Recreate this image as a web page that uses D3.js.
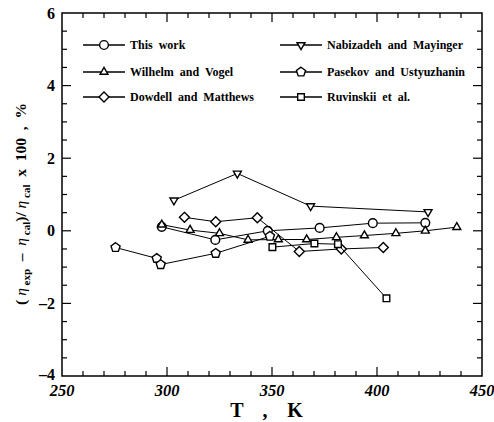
<!DOCTYPE html>
<html>
<head>
<meta charset="utf-8">
<script src="https://cdn.jsdelivr.net/npm/d3@7"></script>
<style>
  body { margin: 0; background: #fff; }
  svg text { font-family: "Liberation Serif", "DejaVu Serif", serif; font-weight: bold; fill: #000; }
</style>
</head>
<body>
<div id="chart"></div>
<script>
// Deviation data: [T in K, deviation in %]
const thisWork = [[297.5, 0.11], [323, -0.25], [348, 0.0], [372.7, 0.08], [398, 0.21], [423, 0.22]];
const wilhelm = [[297.5, 0.17], [311, 0.02], [325, -0.07], [338.6, -0.25], [353, -0.24], [366.5, -0.24], [380.7, -0.18], [394, -0.13], [409, -0.07], [423, 0.0], [438, 0.1]];
const dowdell = [[308.3, 0.37], [323.2, 0.25], [343, 0.36], [363, -0.57], [383, -0.5], [403, -0.46]];
const nabizadeh = [[303.3, 0.84], [333.5, 1.58], [368.4, 0.68], [424.3, 0.52]];
const pasekov = [[275.5, -0.46], [295.1, -0.76], [297, -0.93], [323.2, -0.62], [349, -0.15]];
const ruvinskii = [[350.2, -0.45], [370.2, -0.35], [381.4, -0.37], [404.5, -1.86]];

const seriesNames = ['This work', 'Wilhelm and Vogel', 'Dowdell and Matthews',
  'Nabizadeh and Mayinger', 'Pasekov and Ustyuzhanin', 'Ruvinskii et al.'];
const seriesData = [thisWork, wilhelm, dowdell, nabizadeh, pasekov, ruvinskii];
const seriesMarkers = ['circle', 'triangle', 'diamond', 'triangleDown', 'pentagon', 'square'];

const xTicks = [250, 300, 350, 400, 450];
const yTicks = [-4, -2, 0, 2, 4, 6];

const width = 494, height = 422;
const margin = { left: 62, right: 12, top: 13, bottom: 46 };

const svg = d3.select('#chart').append('svg')
  .attr('width', width)
  .attr('height', height);

const x = d3.scaleLinear().domain([250, 450]).range([margin.left, width - margin.right]);
const y = d3.scaleLinear().domain([-4, 6]).range([height - margin.bottom, margin.top]);

// Frame
svg.append('rect')
  .attr('x', x(250)).attr('y', y(6))
  .attr('width', x(450) - x(250)).attr('height', y(-4) - y(6))
  .attr('fill', 'none').attr('stroke', '#000').attr('stroke-width', 1.5);

// Inside ticks on all four sides
const xMinor = d3.range(260, 450, 10);
const yMinor = d3.range(-3.5, 6, 0.5);
const tickG = svg.append('g').attr('stroke', '#000').attr('stroke-width', 1.2);
xMinor.forEach(t => {
  const len = t % 50 === 0 ? 9 : 5;
  tickG.append('line').attr('x1', x(t)).attr('x2', x(t)).attr('y1', y(-4)).attr('y2', y(-4) - len);
  tickG.append('line').attr('x1', x(t)).attr('x2', x(t)).attr('y1', y(6)).attr('y2', y(6) + len);
});
yMinor.forEach(v => {
  const len = v % 2 === 0 ? 9 : 5;
  tickG.append('line').attr('y1', y(v)).attr('y2', y(v)).attr('x1', x(250)).attr('x2', x(250) + len);
  tickG.append('line').attr('y1', y(v)).attr('y2', y(v)).attr('x1', x(450)).attr('x2', x(450) - len);
});

// Tick labels
svg.append('g').selectAll('text').data(xTicks).join('text')
  .attr('x', d => x(d)).attr('y', y(-4) + 20)
  .attr('text-anchor', 'middle').attr('font-size', 16.5).attr('font-style', 'italic')
  .text(d => d);
svg.append('g').selectAll('text').data(yTicks).join('text')
  .attr('x', x(250) - 7).attr('y', d => y(d) - (d === -4 ? 2 : 0)).attr('dy', '0.35em')
  .attr('text-anchor', 'end').attr('font-size', 16)
  .text(d => d < 0 ? '\u2013' + Math.abs(d) : d);

// Axis titles
const xTitle = svg.append('g');
[['T', 237], [',', 265], ['K', 295]].forEach(([s, px]) => {
  xTitle.append('text').attr('x', px).attr('y', 417)
    .attr('text-anchor', 'middle').attr('font-size', 20).text(s);
});

const yTitle = svg.append('text')
  .attr('transform', 'translate(26,204) rotate(-90)')
  .attr('text-anchor', 'middle').attr('font-size', 15.5)
  .attr('xml:space', 'preserve');
yTitle.append('tspan').text('( ');
yTitle.append('tspan').attr('font-style', 'italic').attr('font-weight', 'normal').text('\u03b7');
yTitle.append('tspan').attr('font-size', 11).attr('dy', 4).text(' exp');
yTitle.append('tspan').attr('dy', -4).text('  \u2013  ');
yTitle.append('tspan').attr('font-style', 'italic').attr('font-weight', 'normal').text('\u03b7');
yTitle.append('tspan').attr('font-size', 11).attr('dy', 4).text(' cal');
yTitle.append('tspan').attr('dy', -4).text(')/ ');
yTitle.append('tspan').attr('font-style', 'italic').attr('font-weight', 'normal').text('\u03b7');
yTitle.append('tspan').attr('font-size', 11).attr('dy', 4).text(' cal');
yTitle.append('tspan').attr('dy', -4).text('  x  100  ,  %');

// Marker shapes (small open symbols)
function polygonPath(n, r, start) {
  const pts = d3.range(n).map(i => {
    const a = start + i * 2 * Math.PI / n;
    return [(r * Math.cos(a)).toFixed(2), (r * Math.sin(a)).toFixed(2)];
  });
  return 'M' + pts.join('L') + 'Z';
}
function markerPath(kind) {
  switch (kind) {
    case 'circle': return d3.symbol().type(d3.symbolCircle).size(60)();
    case 'triangle': return polygonPath(3, 4.6, -Math.PI / 2);
    case 'triangleDown': return polygonPath(3, 4.6, Math.PI / 2);
    case 'diamond': return polygonPath(4, 5, -Math.PI / 2);
    case 'square': return d3.symbol().type(d3.symbolSquare).size(44)();
    case 'pentagon': return polygonPath(5, 4.8, -Math.PI / 2);
  }
}

const line = d3.line().x(d => x(d[0])).y(d => y(d[1]));

seriesData.forEach((data, i) => {
  const g = svg.append('g');
  g.append('path')
    .attr('d', line(data))
    .attr('fill', 'none').attr('stroke', '#000').attr('stroke-width', 1);
  g.selectAll('path.mk').data(data).join('path')
    .attr('class', 'mk')
    .attr('d', markerPath(seriesMarkers[i]))
    .attr('transform', d => `translate(${x(d[0])},${y(d[1])})`)
    .attr('fill', '#fff').attr('stroke', '#000').attr('stroke-width', 1.4);
});

// Legend
const legendCols = [{ x0: 83, x1: 125, tx: 130 }, { x0: 280, x1: 322, tx: 327 }];
const legendRows = [45, 72, 97];
seriesNames.forEach((name, i) => {
  const col = legendCols[Math.floor(i / 3)];
  const ry = legendRows[i % 3];
  const g = svg.append('g');
  g.append('line').attr('x1', col.x0).attr('x2', col.x1).attr('y1', ry).attr('y2', ry)
    .attr('stroke', '#000').attr('stroke-width', 1.4);
  g.append('path')
    .attr('d', markerPath(seriesMarkers[i]))
    .attr('transform', `translate(${(col.x0 + col.x1) / 2},${ry})`)
    .attr('fill', '#fff').attr('stroke', '#000').attr('stroke-width', 1.4);
  g.append('text')
    .attr('x', col.tx).attr('y', ry).attr('dy', '0.35em')
    .attr('font-size', 12)
    .attr('xml:space', 'preserve')
    .text(name.replace(/ /g, '  '));
});
</script>
</body>
</html>
